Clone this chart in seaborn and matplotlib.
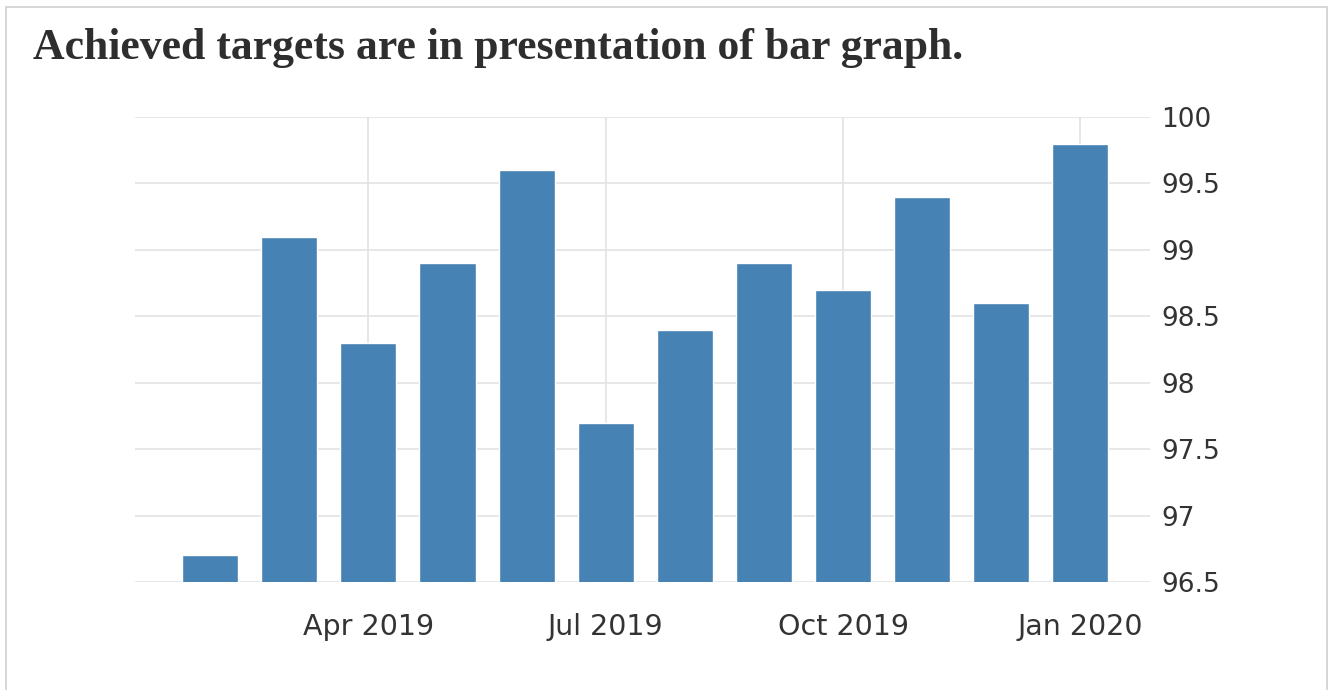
import matplotlib
matplotlib.use("Agg")
import matplotlib.pyplot as plt
import matplotlib.patches as patches
import seaborn as sns
import pandas as pd

# monthly achieved targets, Feb 2019 - Jan 2020
months = ["Feb 2019", "Mar 2019", "Apr 2019", "May 2019", "Jun 2019", "Jul 2019",
          "Aug 2019", "Sep 2019", "Oct 2019", "Nov 2019", "Dec 2019", "Jan 2020"]
values = [96.7, 99.1, 98.3, 98.9, 99.6, 97.7, 98.4, 98.9, 98.7, 99.4, 98.6, 99.8]
shown_labels = ["Apr 2019", "Jul 2019", "Oct 2019", "Jan 2020"]
y_ticks = [96.5, 97, 97.5, 98, 98.5, 99, 99.5, 100]
y_tick_labels = ["96.5", "97", "97.5", "98", "98.5", "99", "99.5", "100"]

df = pd.DataFrame({"month": months, "value": values})

sns.set_theme(style="white")
plt.rcParams["font.family"] = ["DejaVu Sans"]

fig = plt.figure(figsize=(13.33, 6.9), dpi=100)
ax = fig.add_axes([0.1013, 0.1565, 0.7614, 0.6739])

sns.barplot(data=df, x="month", y="value", color="#4682b4", width=0.71,
            saturation=1, ax=ax, zorder=3)

ax.set_ylim(96.5, 100)
ax.set_xlim(-0.95, 11.88)
ax.set_yticks(y_ticks)
ax.set_yticklabels(y_tick_labels)
ax.yaxis.tick_right()

tick_pos = [months.index(m) for m in shown_labels]
ax.set_xticks(tick_pos)
ax.set_xticklabels(shown_labels)

ax.grid(True, axis="y", color="#e3e3e3", linewidth=1.2, zorder=0)
for p in tick_pos:
    ax.axvline(p, color="#e3e3e3", linewidth=1.2, zorder=0)

ax.tick_params(axis="y", length=0, pad=8, labelsize=19, labelcolor="#333333")
ax.tick_params(axis="x", length=5, width=1, color="#d0d0d0", pad=17,
               labelsize=20.5, labelcolor="#333333")
for s in ax.spines.values():
    s.set_visible(False)
ax.set_xlabel("")
ax.set_ylabel("")

fig.text(33 / 1333, 1 - 59 / 690, "Achieved targets are in presentation of bar graph.",
         family="Liberation Serif", fontweight="bold", fontsize=31.5,
         color="#2e2e2e", va="baseline", ha="left")

# light frame round the picture
frame = patches.Rectangle((6 / 1333, -0.05), 1321 / 1333, 1.05 - 7 / 690,
                          transform=fig.transFigure, fill=False,
                          edgecolor="#cfcfcf", linewidth=1.2)
fig.patches.append(frame)

fig.savefig("out.png", dpi=100)
